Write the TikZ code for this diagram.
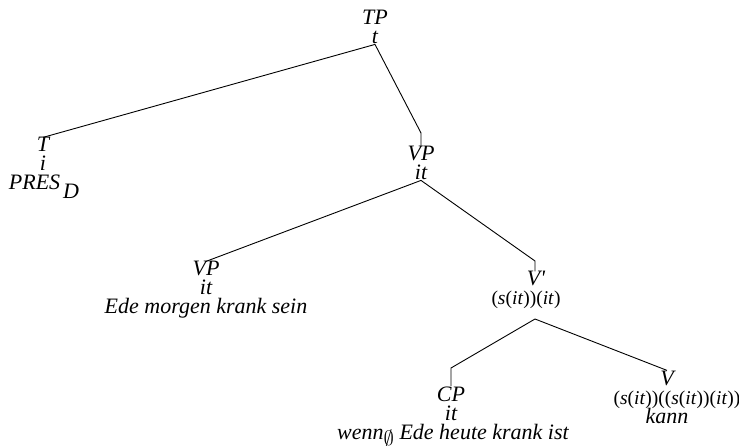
\documentclass[tikz,border=0pt]{standalone}
\usepackage{fontspec}
\usepackage{amssymb}
\setmainfont{Liberation Serif}
\usetikzlibrary{positioning}

\tikzset{
  lab/.style={font=\fontsize{22}{24}\selectfont\itshape, inner sep=0pt, anchor=base},
  typ/.style={font=\fontsize{19.5}{22}\selectfont\upshape, inner sep=0pt, anchor=base},
  branch/.style={line width=0.9pt},
}

\begin{document}
\begin{tikzpicture}[x=1pt,y=-1pt]
\useasboundingbox (0,0) rectangle (739,446);
% root
\node[lab] (tp) at (375,25) {TP};
\node[lab] (tpt) at (375,44) {t};
% tense
\node[lab] (t) at (43,152) {T};
\node[lab] (tt) at (43,171) {i};
\node[lab] (tw) at (44,190) {PRES\hspace{3pt}\raisebox{-9pt}{D}};
% upper VP
\node[lab] (vp) at (421,161) {VP};
\node[lab] (vpt) at (421,180) {it};
% lower VP
\node[lab] (vpl) at (206,276) {VP};
\node[lab] (vplt) at (206,295) {it};
\node[lab] (vplw) at (206,314) {Ede morgen krank sein};
% V-bar
\node[lab] (vb) at (536,286) {V\textquotesingle};
\node[typ] (vbt) at (526,305) {(\emph{s}(\emph{it}))(\emph{it})};
% CP
\node[lab] (cp) at (451,401) {CP};
\node[lab] (cpt) at (451,420) {it};
\node[lab] (cpw) at (453,439) {wenn\raisebox{-6pt}{\fontsize{20}{20}\selectfont$\emptyset$} Ede heute krank ist};
% V
\node[lab] (v) at (667,385) {V};
\node[typ] (vt) at (677,404) {(\emph{s}(\emph{it}))((\emph{s}(\emph{it}))(\emph{it}))};
\node[lab] (vw) at (667,423) {kann};
% bends and joints
\coordinate (vpk) at (421,133);
\coordinate (vbk) at (535,261);
\coordinate (vbj) at (535,319);
\coordinate (cpk) at (451,368);
% branches
\draw[branch] (tpt.south) -- (t.north);
\draw[branch] (tpt.south) -- (vpk) -- (vp.north);
\draw[branch] (vpt.south) -- (vpl.north);
\draw[branch] (vpt.south) -- (vbk) -- (vbk |- vb.north);
\draw[branch] (vbj) -- (cpk) -- (cp.north);
\draw[branch] (vbj) -- (v.north);
\end{tikzpicture}
\end{document}
